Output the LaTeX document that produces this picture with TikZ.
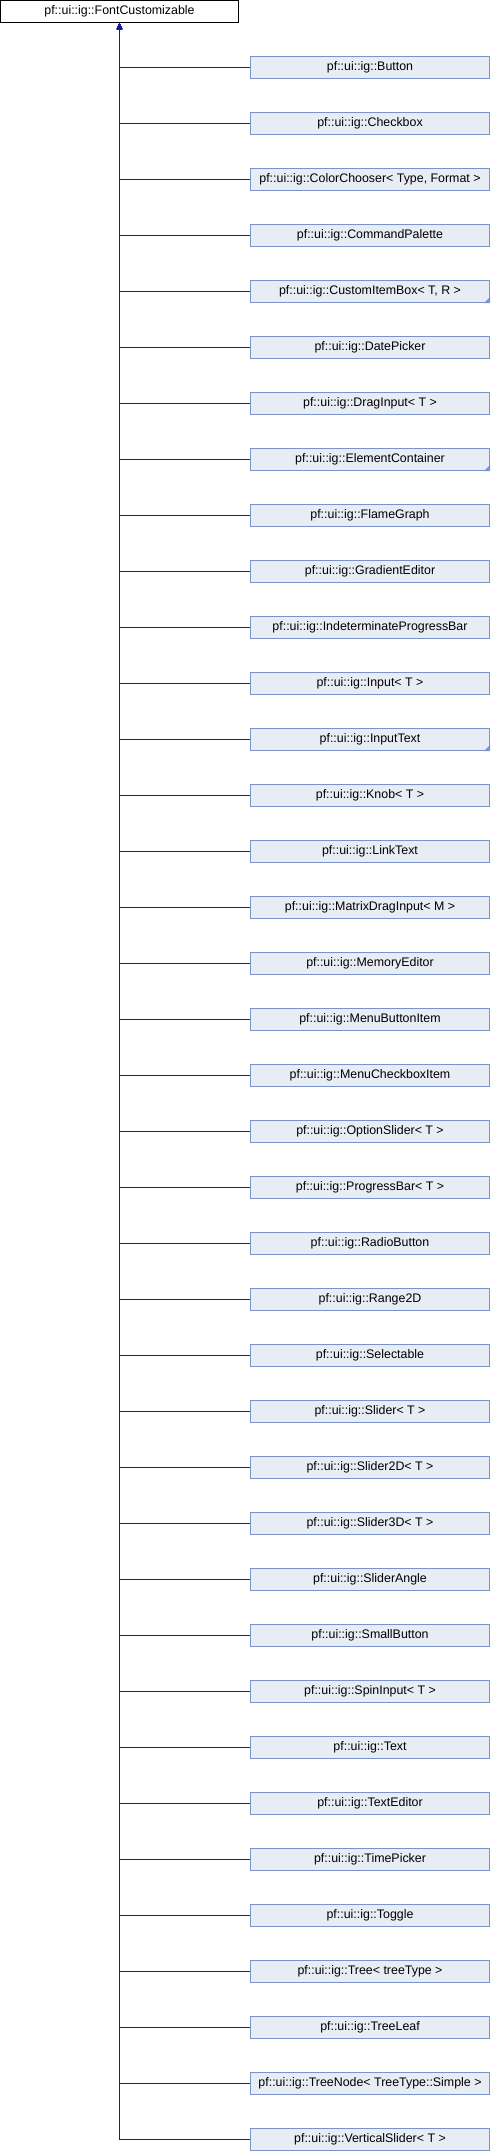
\documentclass[tikz,border=0pt]{standalone}
\usepackage{fontspec}
\setmainfont{Liberation Sans}
\usepackage{tikz}
\usetikzlibrary{
  arrows.meta,
  positioning}

\definecolor{boxfill}{HTML}{E8ECF5}
\definecolor{boxline}{HTML}{7B93C6}
\definecolor{edgeblue}{HTML}{1A1A96}

\begin{document}
\begin{tikzpicture}[x=1pt,y=1pt,node distance=33pt]
  \tikzset{classbox/.style={draw=boxline,
                            fill=boxfill,
                            line width=1pt,
                            rectangle,
                            minimum width=239pt,
                            minimum height=22pt,
                            inner sep=0pt,
                            font=\fontsize{12.4}{14}\selectfont},
           basebox/.style={classbox,
                           draw=black,
                           fill=white,
                           minimum width=238pt},
           inherit/.style={{Triangle[length=6pt,width=5pt]}-,
                           edgeblue,
                           line width=1pt},
           truncmark/.style={fill=boxline}
                           }

%%%%%%%%%%%%%%%%%%%%%%%%%%%%%%%%%%%%%%%%%%%%%%%%%%%%%%%%%%%%%%%%%%%%%%%%%%%%%%

\useasboundingbox (0,0) rectangle (490,-2152);

%%%%%%%%%%%%%%%%%%%%%%%%%%%%%%%%%%%%%%%%%%%%%%%%%%%%%%%%%%%%%%%%%%%%%%%%%%%%%%

\node[basebox] (FC) at (119.5,-11.5) {pf::ui::ig::FontCustomizable};

\node[classbox] (B) at (370,-67.5) {pf::ui::ig::Button};
\node[classbox,below=of B] (CB) {pf::ui::ig::Checkbox};
\node[classbox,below=of CB] (CC) {pf::ui::ig::ColorChooser< Type, Format >};
\node[classbox,below=of CC] (CP) {pf::ui::ig::CommandPalette};
\node[classbox,below=of CP] (CIB) {pf::ui::ig::CustomItemBox< T, R >};
\node[classbox,below=of CIB] (DP) {pf::ui::ig::DatePicker};
\node[classbox,below=of DP] (DI) {pf::ui::ig::DragInput< T >};
\node[classbox,below=of DI] (EC) {pf::ui::ig::ElementContainer};
\node[classbox,below=of EC] (FG) {pf::ui::ig::FlameGraph};
\node[classbox,below=of FG] (GE) {pf::ui::ig::GradientEditor};
\node[classbox,below=of GE] (IPB) {pf::ui::ig::IndeterminateProgressBar};
\node[classbox,below=of IPB] (IN) {pf::ui::ig::Input< T >};
\node[classbox,below=of IN] (IT) {pf::ui::ig::InputText};
\node[classbox,below=of IT] (KN) {pf::ui::ig::Knob< T >};
\node[classbox,below=of KN] (LT) {pf::ui::ig::LinkText};
\node[classbox,below=of LT] (MDI) {pf::ui::ig::MatrixDragInput< M >};
\node[classbox,below=of MDI] (ME) {pf::ui::ig::MemoryEditor};
\node[classbox,below=of ME] (MBI) {pf::ui::ig::MenuButtonItem};
\node[classbox,below=of MBI] (MCI) {pf::ui::ig::MenuCheckboxItem};
\node[classbox,below=of MCI] (OS) {pf::ui::ig::OptionSlider< T >};
\node[classbox,below=of OS] (PB) {pf::ui::ig::ProgressBar< T >};
\node[classbox,below=of PB] (RB) {pf::ui::ig::RadioButton};
\node[classbox,below=of RB] (RTD) {pf::ui::ig::Range2D};
\node[classbox,below=of RTD] (SEL) {pf::ui::ig::Selectable};
\node[classbox,below=of SEL] (SL) {pf::ui::ig::Slider< T >};
\node[classbox,below=of SL] (SLTD) {pf::ui::ig::Slider2D< T >};
\node[classbox,below=of SLTD] (SLHD) {pf::ui::ig::Slider3D< T >};
\node[classbox,below=of SLHD] (SA) {pf::ui::ig::SliderAngle};
\node[classbox,below=of SA] (SB) {pf::ui::ig::SmallButton};
\node[classbox,below=of SB] (SI) {pf::ui::ig::SpinInput< T >};
\node[classbox,below=of SI] (TX) {pf::ui::ig::Text};
\node[classbox,below=of TX] (TE) {pf::ui::ig::TextEditor};
\node[classbox,below=of TE] (TP) {pf::ui::ig::TimePicker};
\node[classbox,below=of TP] (TG) {pf::ui::ig::Toggle};
\node[classbox,below=of TG] (TR) {pf::ui::ig::Tree< treeType >};
\node[classbox,below=of TR] (TL) {pf::ui::ig::TreeLeaf};
\node[classbox,below=of TL] (TN) {pf::ui::ig::TreeNode< TreeType::Simple >};
\node[classbox,below=of TN] (VS) {pf::ui::ig::VerticalSlider< T >};

%% truncated subclasses
\fill[truncmark] (CIB.south east) -- ++(-6,0) -- ++(6,6) -- cycle;
\fill[truncmark] (EC.south east) -- ++(-6,0) -- ++(6,6) -- cycle;
\fill[truncmark] (IT.south east) -- ++(-6,0) -- ++(6,6) -- cycle;

%%%%%%%%%%%%%%%%%%%%%%%%%%%%%%%%%%%%%%%%%%%%%%%%%%%%%%%%%%%%%%%%%%%%%%%%%%%%%%
\draw[inherit]  (FC) |- (B);
\draw[inherit]  (FC) |- (CB);
\draw[inherit]  (FC) |- (CC);
\draw[inherit]  (FC) |- (CP);
\draw[inherit]  (FC) |- (CIB);
\draw[inherit]  (FC) |- (DP);
\draw[inherit]  (FC) |- (DI);
\draw[inherit]  (FC) |- (EC);
\draw[inherit]  (FC) |- (FG);
\draw[inherit]  (FC) |- (GE);
\draw[inherit]  (FC) |- (IPB);
\draw[inherit]  (FC) |- (IN);
\draw[inherit]  (FC) |- (IT);
\draw[inherit]  (FC) |- (KN);
\draw[inherit]  (FC) |- (LT);
\draw[inherit]  (FC) |- (MDI);
\draw[inherit]  (FC) |- (ME);
\draw[inherit]  (FC) |- (MBI);
\draw[inherit]  (FC) |- (MCI);
\draw[inherit]  (FC) |- (OS);
\draw[inherit]  (FC) |- (PB);
\draw[inherit]  (FC) |- (RB);
\draw[inherit]  (FC) |- (RTD);
\draw[inherit]  (FC) |- (SEL);
\draw[inherit]  (FC) |- (SL);
\draw[inherit]  (FC) |- (SLTD);
\draw[inherit]  (FC) |- (SLHD);
\draw[inherit]  (FC) |- (SA);
\draw[inherit]  (FC) |- (SB);
\draw[inherit]  (FC) |- (SI);
\draw[inherit]  (FC) |- (TX);
\draw[inherit]  (FC) |- (TE);
\draw[inherit]  (FC) |- (TP);
\draw[inherit]  (FC) |- (TG);
\draw[inherit]  (FC) |- (TR);
\draw[inherit]  (FC) |- (TL);
\draw[inherit]  (FC) |- (TN);
\draw[inherit]  (FC) |- (VS);

%%%%%%%%%%%%%%%%%%%%%%%%%%%%%%%%%%%%%%%%%%%%%%%%%%%%%%%%%%%%%%%%%%%%%%%%%%%%%%

\end{tikzpicture}
\end{document}
